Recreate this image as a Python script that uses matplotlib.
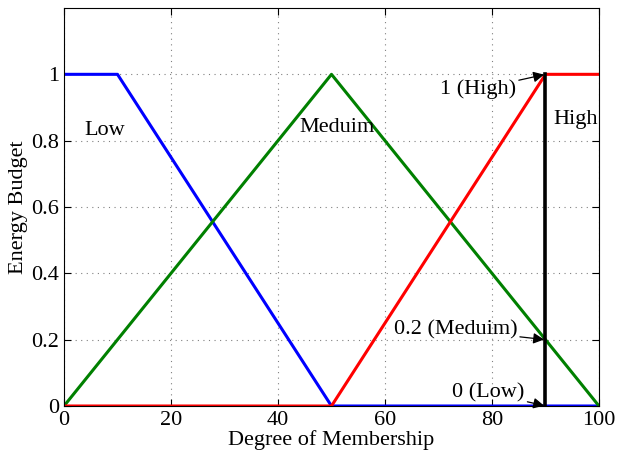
import matplotlib
matplotlib.use("Agg")
import matplotlib.pyplot as plt

plt.rcParams['font.family'] = ['Liberation Serif', 'DejaVu Serif']
plt.rcParams['mathtext.fontset'] = 'stix'

# membership functions (breakpoints)
low_x = [0, 10, 50, 100]
low_y = [1, 1, 0, 0]
med_x = [0, 50, 100]
med_y = [0, 1, 0]
high_x = [0, 50, 90, 100]
high_y = [0, 0, 1, 1]

cut_x = 90
cut_y = [0, 1]

fs = 16

fig = plt.figure(figsize=(6.17, 4.57), dpi=100)
ax = fig.add_axes([0.1037, 0.1116, 0.8671, 0.8709])

ax.plot(low_x, low_y, color='blue', lw=2.2)
ax.plot(med_x, med_y, color='green', lw=2.2)
ax.plot(high_x, high_y, color='red', lw=2.2)
ax.plot([cut_x, cut_x], cut_y, color='black', lw=2.6)

ax.set_xlim(0, 100)
ax.set_ylim(0, 1.2)
ax.set_xticks([0, 20, 40, 60, 80, 100])
ax.set_yticks([0, 0.2, 0.4, 0.6, 0.8, 1])
ax.set_yticklabels(['0', '0.2', '0.4', '0.6', '0.8', '1'])
ax.grid(True, linestyle=(0, (1, 4)), color='gray', lw=0.8)
ax.tick_params(direction='in', top=True, right=True, labelsize=fs, length=5)
ax.set_xlabel('Degree of Membership', fontsize=fs, labelpad=0)
ax.set_ylabel('Energy Budget', fontsize=fs, labelpad=2)

ax.text(7.7, 0.83, 'Low', fontsize=fs, ha='center', va='center')
ax.text(51, 0.84, 'Meduim', fontsize=fs, ha='center', va='center')
ax.text(95.7, 0.865, 'High', fontsize=fs, ha='center', va='center')

arrow = dict(arrowstyle='-|>', color='black', lw=0.9, mutation_scale=16,
             shrinkA=0, shrinkB=1)
ax.annotate('1 (High)', xy=(90, 1), xytext=(84.5, 0.955), fontsize=fs,
            ha='right', va='center', arrowprops=arrow)
ax.annotate('0.2 (Meduim)', xy=(90, 0.2), xytext=(84.7, 0.23), fontsize=fs,
            ha='right', va='center', arrowprops=arrow)
ax.annotate('0 (Low)', xy=(90, 0), xytext=(86.1, 0.04), fontsize=fs,
            ha='right', va='center', arrowprops=arrow)

fig.savefig('out.png', dpi=100)
